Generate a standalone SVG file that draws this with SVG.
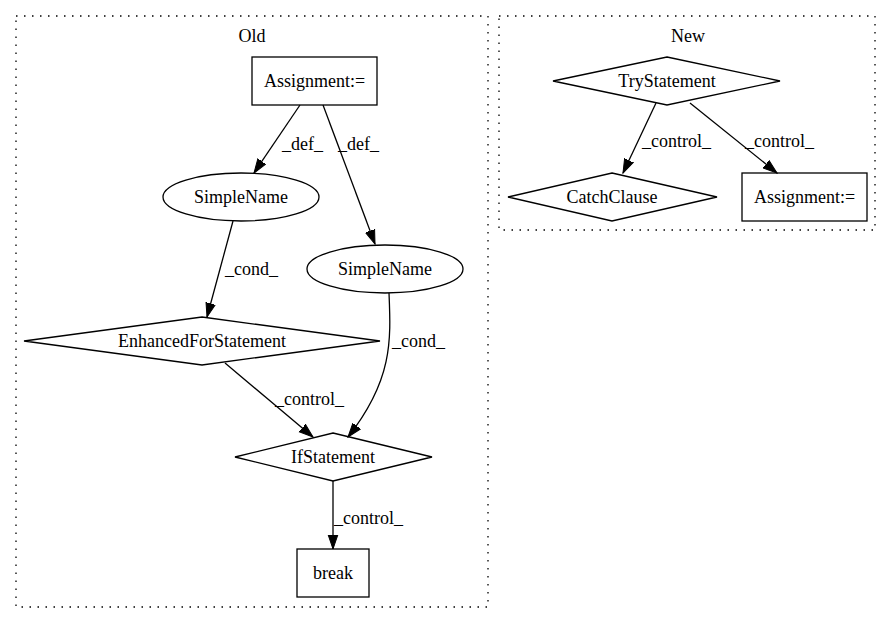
<svg xmlns="http://www.w3.org/2000/svg" width="893" height="624" viewBox="0 0 893 624" font-family="Times New Roman, Liberation Serif, Tinos, DejaVu Serif, serif" font-size="18">
<style>
.t{text-anchor:middle}
.shape{fill:none;stroke:#000;stroke-width:1.3}
.cl{fill:none;stroke:#000;stroke-width:1.3;stroke-dasharray:1.5,6.5}
.e{fill:none;stroke:#000;stroke-width:1.3;marker-end:url(#ah)}
</style>
<defs>
<marker id="ah" markerUnits="userSpaceOnUse" markerWidth="15" markerHeight="12" viewBox="0 0 15 12" refX="14" refY="6" orient="auto">
<path d="M0,1.2 L14,6 L0,10.8 Z" fill="#000" stroke="#000" stroke-width="1"/>
</marker>
</defs>
<rect width="893" height="624" fill="#fff"/>
<g id="cluster_old">
<rect class="cl" x="16" y="16" width="472" height="591"/>
<text class="t" x="252" y="42">Old</text>
</g>
<g id="cluster_new">
<rect class="cl" x="499" y="16" width="376" height="214"/>
<text class="t" x="688" y="42">New</text>
</g>
<g id="edges">
<path class="e" d="M300,105 L254,173"/>
<text x="282" y="150">_def_</text>
<path class="e" d="M323,105 L375,244"/>
<text x="338" y="150">_def_</text>
<path class="e" d="M233,221 L207,317"/>
<text x="225" y="275">_cond_</text>
<path class="e" d="M389,293 C391,340 393,380 348,437"/>
<text x="392" y="347">_cond_</text>
<path class="e" d="M225,363 L313,437"/>
<text x="275" y="405">_control_</text>
<path class="e" d="M333,481 L333,549"/>
<text x="334" y="524">_control_</text>
<path class="e" d="M656,103 L623,173"/>
<text x="642" y="147">_control_</text>
<path class="e" d="M690,103 L777,173"/>
<text x="745" y="147">_control_</text>
</g>
<g id="assign_old">
<rect class="shape" x="252" y="57" width="125" height="48"/>
<text class="t" x="314.5" y="87">Assignment:=</text>
</g>
<g id="simplename1">
<ellipse class="shape" cx="241" cy="197" rx="78" ry="24"/>
<text class="t" x="241" y="203">SimpleName</text>
</g>
<g id="simplename2">
<ellipse class="shape" cx="385" cy="269" rx="78" ry="24"/>
<text class="t" x="385" y="275">SimpleName</text>
</g>
<g id="enhancedfor">
<polygon class="shape" points="202,317 380,341 202,365 24,341"/>
<text class="t" x="202" y="347">EnhancedForStatement</text>
</g>
<g id="ifstatement">
<polygon class="shape" points="333,433 432,457 333,481 235,457"/>
<text class="t" x="333" y="463">IfStatement</text>
</g>
<g id="break">
<rect class="shape" x="297" y="549" width="72" height="48"/>
<text class="t" x="333" y="579">break</text>
</g>
<g id="trystatement">
<polygon class="shape" points="667,57 780,81 667,105 553,81"/>
<text class="t" x="667" y="87">TryStatement</text>
</g>
<g id="catchclause">
<polygon class="shape" points="612,173 717,197 612,221 508,197"/>
<text class="t" x="612" y="203">CatchClause</text>
</g>
<g id="assign_new">
<rect class="shape" x="742" y="173" width="125" height="48"/>
<text class="t" x="804.5" y="203">Assignment:=</text>
</g>
</svg>
